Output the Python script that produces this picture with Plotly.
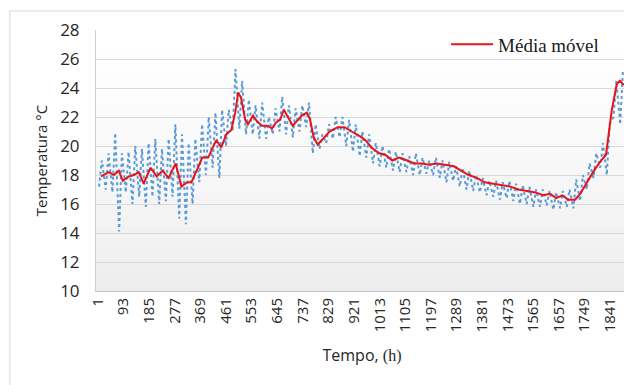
import plotly.graph_objects as go

# ---- data ----
# Hourly temperature shown as daily extremes (max/min of each 24 h day)
day_max = [19.0, 19.5, 20.9, 19.5, 19.6, 20.0, 19.8, 20.2, 20.5, 19.8,
           20.5, 21.5, 20.8, 20.2, 20.5, 21.5, 22.0, 22.3, 22.5, 22.5,
           25.3, 24.5, 23.2, 22.8, 23.0, 22.0, 22.6, 23.4, 22.8, 22.6,
           22.8, 23.0, 21.5, 20.8, 21.5, 22.0, 22.0, 21.8, 21.5, 21.0,
           20.8, 20.2, 20.0, 19.8, 19.6, 19.5, 19.3, 19.5, 19.2, 19.0,
           19.2, 19.0, 18.9, 18.6, 18.5, 18.3, 18.0, 17.8, 17.6, 17.6,
           17.5, 17.6, 17.4, 17.3, 17.2, 17.0, 17.0, 16.9, 16.8, 16.9,
           17.0, 17.7, 18.0, 18.8, 19.5, 20.2, 21.5, 24.5, 25.3]
day_min = [17.2, 17.0, 16.8, 14.1, 16.8, 16.0, 16.5, 15.8, 16.5, 16.0,
           16.2, 16.5, 15.0, 14.6, 16.0, 17.5, 18.0, 18.5, 17.8, 20.0,
           21.0, 21.2, 20.8, 20.8, 20.5, 20.5, 20.8, 21.0, 20.8, 20.6,
           21.0, 21.3, 19.5, 19.8, 20.2, 20.5, 20.6, 20.0, 19.6, 19.3,
           19.2, 18.8, 18.6, 18.5, 18.3, 18.2, 18.2, 18.0, 18.0, 18.1,
           18.0, 17.8, 17.5, 17.6, 17.2, 17.0, 16.9, 16.8, 16.6, 16.5,
           16.3, 16.4, 16.2, 16.0, 16.0, 15.8, 15.8, 15.9, 15.6, 15.7,
           15.8, 15.7, 16.2, 17.0, 17.8, 18.5, 18.0, 22.0, 21.5]

# Moving average (Média móvel)
ma_hours = [12, 40, 58, 76, 90, 112, 130, 148, 165, 190, 212, 233, 255, 280,
            301, 322, 337, 355, 376, 397, 426, 444, 462, 480, 494, 505, 515,
            530, 540, 558, 572, 590, 612, 626, 640, 655, 669, 683, 701, 719,
            733, 751, 762, 776, 790, 805, 833, 862, 887, 912, 940, 962, 983,
            1012, 1033, 1058, 1083, 1112, 1137, 1165, 1190, 1219, 1251, 1280,
            1305, 1333, 1362, 1390, 1422, 1451, 1483, 1512, 1540, 1572, 1601,
            1626, 1647, 1669, 1690, 1715, 1733, 1754, 1783, 1808, 1826, 1847,
            1865, 1876, 1890]
ma_vals = [17.9, 18.2, 18.0, 18.3, 17.6, 17.9, 18.0, 18.2, 17.4, 18.5, 17.9,
           18.3, 17.8, 18.8, 17.2, 17.5, 17.5, 18.3, 19.2, 19.2, 20.4, 19.9,
           20.8, 21.1, 22.3, 23.7, 23.3, 21.8, 21.5, 22.1, 21.7, 21.4, 21.4,
           21.2, 21.6, 21.8, 22.5, 22.0, 21.4, 21.8, 22.1, 22.3, 21.9, 20.6,
           20.1, 20.4, 21.0, 21.3, 21.3, 21.0, 20.7, 20.4, 19.9, 19.5, 19.4,
           19.0, 19.2, 19.0, 18.8, 18.8, 18.7, 18.8, 18.7, 18.6, 18.3, 18.0,
           17.8, 17.5, 17.4, 17.3, 17.2, 17.0, 16.9, 16.8, 16.6, 16.7, 16.4,
           16.6, 16.3, 16.3, 16.7, 17.4, 18.3, 19.0, 19.4, 22.5, 24.3, 24.5,
           24.2]

x_ticks = list(range(1, 1842, 92))
y_ticks = list(range(10, 29, 2))

# hourly positions of the daily extremes
blue_x, blue_y = [], []
for d, (lo, hi) in enumerate(zip(day_min, day_max)):
    blue_x += [24 * d + 5, 24 * d + 15]
    blue_y += [lo, hi]

fig = go.Figure()
fig.add_trace(go.Scatter(x=blue_x, y=blue_y, mode="lines", showlegend=False,
                         line=dict(color="#5B9BD5", width=2, dash="dot")))
fig.add_trace(go.Scatter(x=ma_hours, y=ma_vals, mode="lines", name="Média móvel",
                         line=dict(color="#E8141B", width=2)))

# gradient-like plot background (white top -> light gray bottom)
shapes = []
n = 24
for i in range(n):
    y0 = i / n
    y1 = (i + 1) / n
    t = 1 - (i + 0.5) / n  # 1 at bottom
    g = int(round(255 - 18 * t ** 1.3))
    shapes.append(dict(type="rect", xref="paper", yref="paper", x0=0, x1=1,
                       y0=y0, y1=y1, fillcolor=f"rgb({g},{g},{g})",
                       line=dict(width=0), layer="below"))
# outer chart border
shapes.append(dict(type="rect", xref="paper", yref="paper",
                   x0=-0.162, x1=1.05, y0=-0.40, y1=1.073,
                   line=dict(color="#d9d9d9", width=1), fillcolor="rgba(0,0,0,0)",
                   layer="below"))

fig.update_layout(
    width=624, height=377, autosize=False,
    margin=dict(l=88, r=4, t=22, b=94),
    paper_bgcolor="white", plot_bgcolor="white",
    font=dict(family="Open Sans", color="#262626"),
    shapes=shapes,
    legend=dict(x=0.658, y=1.018, xanchor="left", yanchor="top",
                bgcolor="rgba(0,0,0,0)", itemwidth=42,
                font=dict(family="Liberation Serif", size=19, color="#1a1a1a")),
    xaxis=dict(range=[-6, 1905], tickmode="array", tickvals=x_ticks,
               ticktext=[str(v) for v in x_ticks], tickangle=-90,
               tickfont=dict(size=15), showgrid=False, zeroline=False,
               showline=True, linecolor="#bfbfbf", linewidth=1, ticks="",
               automargin=False,
               title=dict(text="Tempo, <span style='font-family:Liberation Serif'>(h)</span>",
                          font=dict(size=16), standoff=18)),
    yaxis=dict(range=[10, 28], tickvals=y_ticks, tickfont=dict(size=17),
               ticklabelstandoff=12,
               showgrid=True, gridcolor="#d9d9d9", gridwidth=1, zeroline=False,
               showline=True, linecolor="#d0d0d0", ticks="", automargin=False,
               title=dict(text="Temperatura °C", font=dict(size=15), standoff=8)),
)

fig.write_html("out.html")
